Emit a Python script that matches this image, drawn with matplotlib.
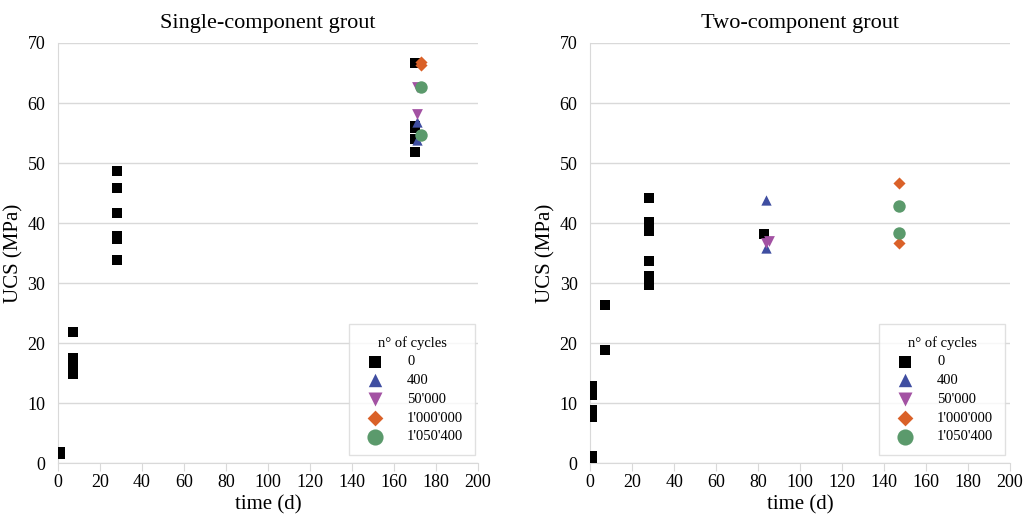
import numpy as np
import matplotlib
matplotlib.use("Agg")
import matplotlib.pyplot as plt

plt.rcParams['font.family'] = ['Liberation Serif', 'DejaVu Serif']

# ---- data ----
# single-component grout
s_t0 = [1, 1, 7, 7, 7, 7, 28, 28, 28, 28, 28, 28, 170, 170, 170, 170, 170]
s_y0 = [1.5, 1.9, 21.9, 17.5, 16.0, 14.8, 48.7, 45.9, 41.6, 37.8, 37.4, 33.8, 66.7, 56.2, 55.8, 54.0, 51.8]
s_t400 = [171, 171]
s_y400 = [56.9, 53.8]
s_t50k = [171, 171]
s_y50k = [62.7, 58.2]
s_t1m = [173, 173]
s_y1m = [66.3, 66.8]
s_t105 = [173, 173]
s_y105 = [62.6, 54.7]

# two-component grout
t_t0 = [1, 1, 1, 1, 1, 1, 7, 7, 28, 28, 28, 28, 28, 28, 28, 83]
t_y0 = [12.8, 11.4, 8.9, 7.6, 1.2, 0.9, 26.3, 18.9, 44.1, 40.2, 39.2, 38.6, 33.6, 31.2, 29.7, 38.1]
t_t400 = [84, 84]
t_y400 = [43.8, 35.9]
t_t50k = [84, 85]
t_y50k = [36.6, 37.0]
t_t1m = [147, 147]
t_y1m = [46.7, 36.7]
t_t105 = [147, 147]
t_y105 = [42.8, 38.4]

labels = ["0", "400", "50'000", "1'000'000", "1'050'400"]
colors = ["black", "#3F4EA1", "#A352A3", "#DA6128", "#5B9A6C"]
markers = ["s", "^", "v", "D", "o"]
sizes = [48, 55, 60, 38, 80]

fig = plt.figure(figsize=(10.28, 5.18), dpi=100)
ax1 = fig.add_axes([0.0564, 0.106, 0.4086, 0.811])
ax2 = fig.add_axes([0.574, 0.106, 0.4086, 0.811])

left = [(s_t0, s_y0), (s_t400, s_y400), (s_t50k, s_y50k), (s_t1m, s_y1m), (s_t105, s_y105)]
right = [(t_t0, t_y0), (t_t400, t_y400), (t_t50k, t_y50k), (t_t1m, t_y1m), (t_t105, t_y105)]

for ax, series, title, legx in [(ax1, left, "Single-component grout", 0.993),
                                (ax2, right, "Two-component grout", 0.988)]:
    for (x, y), lab, c, m, s in zip(series, labels, colors, markers, sizes):
        ax.scatter(x, y, marker=m, s=s, color=c, label=lab, linewidths=0, zorder=3)
    ax.set_xlim(0, 200)
    ax.set_ylim(0, 70)
    ax.set_xticks(np.arange(0, 201, 20))
    ax.set_yticks(np.arange(0, 71, 10))
    ax.grid(axis='y', color='#d9d9d9', linewidth=1)
    ax.set_axisbelow(True)
    for sp in ['top', 'right']:
        ax.spines[sp].set_visible(False)
    for sp in ['left', 'bottom']:
        ax.spines[sp].set_color('#d9d9d9')
    ax.tick_params(axis='x', direction='out', length=6, color='#d9d9d9', labelsize=13, pad=2)
    ax.tick_params(axis='y', length=0, labelsize=13, pad=9)
    ax.set_xlabel("time (d)", fontsize=15, labelpad=3)
    ax.set_ylabel("UCS (MPa)", fontsize=15, labelpad=3)
    ax.set_title(title, fontsize=16, pad=11)
    leg = ax.legend(title="n° of cycles", loc='lower right', bbox_to_anchor=(legx, 0.019),
                    borderaxespad=0,
                    fontsize=10.5, title_fontsize=10.5, frameon=True, fancybox=False,
                    edgecolor='#d9d9d9', handletextpad=1.2, borderpad=0.8,
                    labelspacing=0.38, markerscale=1.3)
    leg.get_frame().set_linewidth(1)
    leg._legend_box.align = "center"

fig.savefig("out.png", dpi=100)
